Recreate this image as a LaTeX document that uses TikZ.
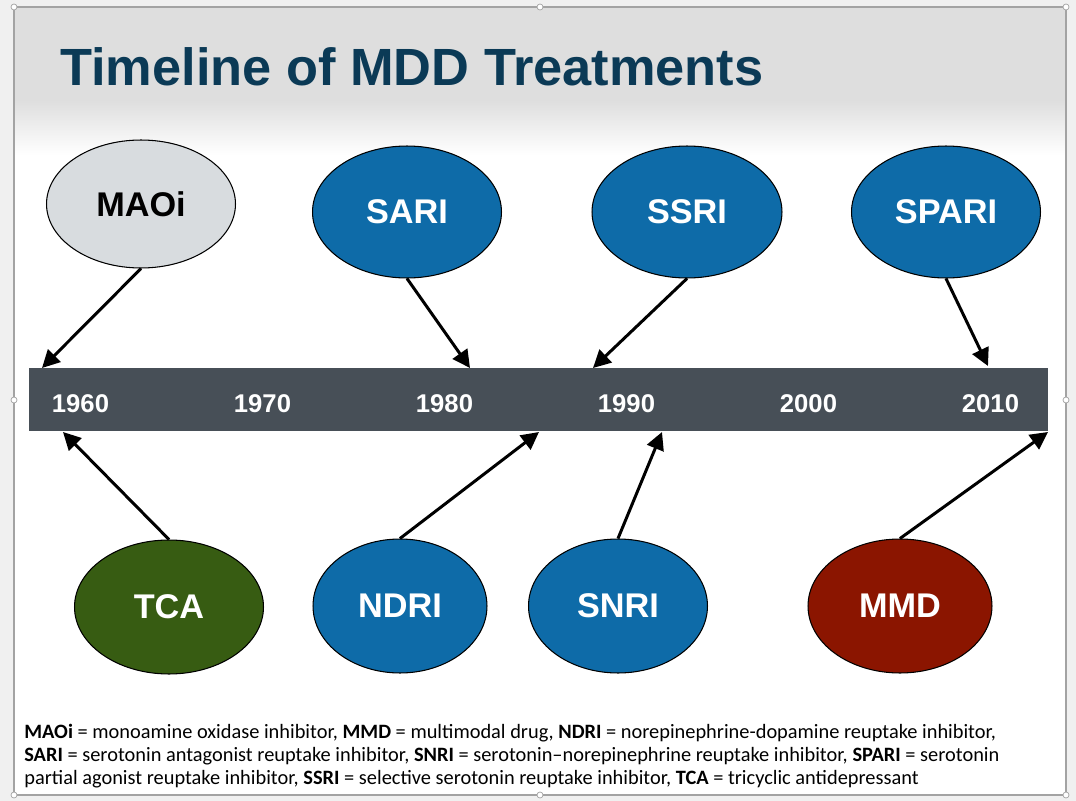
\documentclass[tikz,border=0pt]{standalone}
\usepackage{fontspec}
\setmainfont{Liberation Sans}
\newfontfamily\notefont[Ligatures=TeX]{Carlito}
\usetikzlibrary{shapes.geometric,arrows.meta}

\definecolor{pagegray}{HTML}{F0F0F0}
\definecolor{framegray}{HTML}{A3A3A3}
\definecolor{headgray}{HTML}{DEDEDE}
\definecolor{titleblue}{HTML}{0B3A56}
\definecolor{barslate}{HTML}{474F57}
\definecolor{drugblue}{HTML}{0E6BA8}
\definecolor{maoigray}{HTML}{D8DCDF}
\definecolor{tcagreen}{HTML}{375C12}
\definecolor{mmdred}{HTML}{8B1500}

\begin{document}
\begin{tikzpicture}[x=0.02cm, y=-0.02cm,
    >={Triangle[length=10pt, width=10pt]},
    drug/.style={ellipse, draw=black, line width=0.6pt, fill=drugblue,
      minimum width=3.78cm, minimum height=2.64cm, inner sep=0pt,
      text=white, font=\fontsize{19.5}{22}\selectfont\bfseries},
    arr/.style={->, line width=1.7pt},
    year/.style={text=white, inner sep=0pt,
      font=\fontsize{14.6}{16}\selectfont\bfseries},
    handle/.style={draw=framegray, fill=white, line width=0.4pt}]
  \useasboundingbox (0,0) rectangle (1076,801);
  % --- Slide frame and header band ---
  \fill[pagegray] (0,0) rectangle (1076,801);
  \fill[white] (14,7) rectangle (1066,795);
  \shade[top color=headgray, bottom color=headgray] (14,7) rectangle (1066,100);
  \shade[top color=headgray, bottom color=white] (14,100) rectangle (1066,155);
  \draw[framegray, line width=1pt] (14,7) rectangle (1066,795);
  \foreach \hx/\hy in {14/7, 540/7, 1066/7, 14/400, 1066/400,
                       14/795, 540/795, 1066/795}
    \draw[handle] (\hx,\hy) circle (3);
  \node[anchor=base west, inner sep=0pt, text=titleblue,
        font=\fontsize{29.8}{32}\selectfont\bfseries] (title) at (60,85)
    {Timeline of MDD Treatments};
  % --- Timeline bar with decades ---
  \fill[barslate] (29,368) rectangle (1048,431);
  \foreach \yr [count=\i from 0] in {1960,1970,1980,1990,2000,2010}
    \node[year] (y\yr) at ({80.5+182*\i},404) {\yr};
  % Arrow targets on the bar edges.
  \coordinate (tmaoi) at (42,368);
  \coordinate (tsari) at (470,368);
  \coordinate (tssri) at (593,368);
  \coordinate (tspari) at (988,366);
  \coordinate (ttca) at (63,432);
  \coordinate (tndri) at (539,432);
  \coordinate (tsnri) at (662,432);
  \coordinate (tmmd) at (1048,432);
  % --- Top row of classes ---
  \node[drug, fill=maoigray, text=black, minimum height=2.56cm] (maoi) at (141,204) {MAOi};
  \node[drug] (sari) at (407,212) {SARI};
  \node[drug, minimum width=3.8cm] (ssri) at (687,212) {SSRI};
  \node[drug] (spari) at (946,212) {SPARI};
  % --- Bottom row of classes ---
  \node[drug, fill=tcagreen, minimum height=2.68cm] (tca) at (169,607) {TCA};
  \node[drug, minimum width=3.48cm, minimum height=2.68cm] (ndri) at (400,606) {NDRI};
  \node[drug, minimum width=3.58cm, minimum height=2.68cm] (snri) at (618,606) {SNRI};
  \node[drug, fill=mmdred, minimum width=3.68cm, minimum height=2.68cm] (mmd) at (900,606) {MMD};
  % --- Connectors ---
  \draw[arr] (maoi.south) -- (tmaoi);
  \draw[arr] (sari.south) -- (tsari);
  \draw[arr] (ssri.south) -- (tssri);
  \draw[arr] (spari.south) -- (tspari);
  \draw[arr] (tca.north) -- (ttca);
  \draw[arr] (ndri.north) -- (tndri);
  \draw[arr] (snri.north) -- (tsnri);
  \draw[arr] (mmd.north) -- (tmmd);
  % --- Abbreviations ---
  \node[anchor=north west, align=left, inner sep=0pt,
        font=\notefont\fontsize{11.6}{13}\selectfont] (abbr) at (24,724)
    {\textbf{MAOi} = monoamine oxidase inhibitor, \textbf{MMD} = multimodal drug, \textbf{NDRI} = norepinephrine-dopamine reuptake inhibitor,\\
     \textbf{SARI} = serotonin antagonist reuptake inhibitor, \textbf{SNRI} = serotonin–norepinephrine reuptake inhibitor, \textbf{SPARI} = serotonin\\
     partial agonist reuptake inhibitor, \textbf{SSRI} = selective serotonin reuptake inhibitor, \textbf{TCA} = tricyclic antidepressant};
\end{tikzpicture}
\end{document}
